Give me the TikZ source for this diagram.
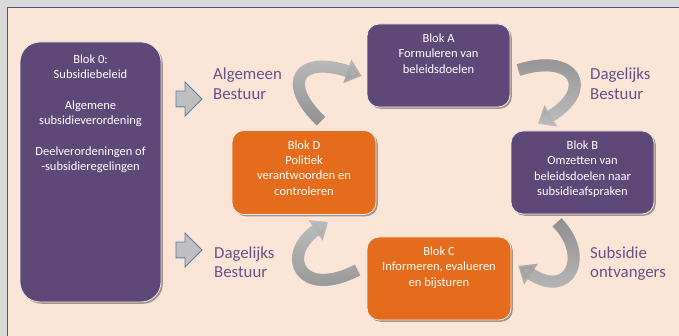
\documentclass[tikz,border=0pt]{standalone}
\usepackage{fontspec}
\setmainfont{Carlito}
\usetikzlibrary{shapes.arrows,shadows,fadings,arrows.meta,calc}
\definecolor{bggray}{HTML}{D9D9D9}
\definecolor{peach}{HTML}{FBE5D6}
\definecolor{framepurple}{HTML}{5F4A7B}
\definecolor{boxpurple}{HTML}{5E4878}
\definecolor{boxorange}{HTML}{E46C1C}
\definecolor{labpurple}{HTML}{65538A}
\definecolor{arrfill}{HTML}{BFBFBF}
\definecolor{arrline}{HTML}{5C7FA8}
\definecolor{curvelight}{HTML}{C0C0C0}
\definecolor{curvedark}{HTML}{8F8F8F}
\newcommand\boxtxt[4]{\parbox[c][#2pt][t]{#1pt}{\centering\vspace*{#3pt}#4\par}}
\tikzset{
  blk/.style={rounded corners=12pt, draw=white!92!black, line width=0.8pt, inner sep=0pt,
    drop shadow={shadow xshift=1.8pt, shadow yshift=-1.8pt, opacity=0.35, fill=black},
    text=white, font=\fontsize{12.5}{15.3}\selectfont},
  purp/.style={blk, fill=boxpurple},
  oran/.style={blk, fill=boxorange},
  lab/.style={text=labpurple, font=\fontsize{16.8}{20}\selectfont, align=left, inner sep=0pt, anchor=base west},
  fwdarrow/.style={single arrow, single arrow head extend=9pt, single arrow head indent=0pt,
    minimum width=33pt, minimum height=26pt, inner xsep=0pt, inner ysep=7.5pt, text height=0pt, text depth=0pt,
    fill=arrfill, draw=arrline, line width=0.9pt},
  curvebase/.style={line width=12pt, -{Triangle[width=24pt,length=15pt]}},
  curvelt/.style={curvebase, draw=curvelight},
  curvedk/.style={curvebase, draw=curvedark, path fading=#1}
}
\begin{document}
\begin{tikzpicture}[x=1pt,y=-1pt]
\clip (0,0) rectangle (679,336);
\fill[bggray] (0,0) rectangle (679,336);
\filldraw[fill=peach, draw=framepurple, line width=1pt] (7,8) rectangle (700,360);

% boxes
\node[purp, rounded corners=20pt] (B0) at (90.5,172) {\boxtxt{141}{260}{13}{Blok 0:\\Subsidiebeleid\\[15.3pt]Algemene\\subsidieverordening\\[15.3pt]Deelverordeningen of\\-subsidieregelingen}};
\node[purp] (A) at (438.5,65.5) {\boxtxt{143}{83}{10}{Blok A\\Formuleren van\\beleidsdoelen}};
\node[purp] (B) at (582.5,172.5) {\boxtxt{143}{83}{10}{Blok B\\Omzetten van\\beleidsdoelen naar\\subsidieafspraken}};
\node[oran] (D) at (304,172.5) {\boxtxt{144}{84}{10}{Blok D\\Politiek\\verantwoorden en\\controleren}};
\node[oran] (C) at (439,278.5) {\boxtxt{144}{83}{10}{Blok C\\Informeren, evalueren\\en bijsturen}};

% straight arrows
\node[fwdarrow] (F1) at (185,99) {};
\node[fwdarrow] (F2) at (185,250) {};

% labels (anchor = baseline of the last line)
\node[lab] (L1) at (213,100) {Algemeen\\Bestuur};
\node[lab] (L2) at (590,100) {Dagelijks\\Bestuur};
\node[lab] (L3) at (214,278) {Dagelijks\\Bestuur};
\node[lab] (L4) at (590,278) {Subsidie\\ontvangers};

% curved arrows
\coordinate (t1) at ([shift={(17,-9)}]D.north);
\coordinate (h1) at ([shift={(-5,10.5)}]A.west);
\coordinate (t2) at ([shift={(8,4.5)}]A.east);
\coordinate (h2) at ([shift={(-44.5,-7)}]B.north);
\coordinate (t3) at ([shift={(-25.5,8)}]B.south);
\coordinate (h3) at ([shift={(7,-12.5)}]C.east);
\coordinate (t4) at ([shift={(-9,-8.5)}]C.west);
\coordinate (h4) at ([shift={(24,7)}]D.south);

\draw[curvelt] (t1) .. controls +(-41,-39) and +(-62,-21) .. (h1);
\draw[curvedk=north] (t1) .. controls +(-41,-39) and +(-62,-21) .. (h1);
\draw[curvelt] (t2) .. controls +(57,-18) and +(57,-34) .. (h2);
\draw[curvedk=south] (t2) .. controls +(57,-18) and +(57,-34) .. (h2);
\draw[curvelt] (t3) .. controls +(33,33) and +(52,34) .. (h3);
\draw[curvedk=south] (t3) .. controls +(33,33) and +(52,34) .. (h3);
\draw[curvelt] (t4) .. controls +(-58,30) and +(-48,33) .. (h4);
\draw[curvedk=north] (t4) .. controls +(-58,30) and +(-48,33) .. (h4);
\end{tikzpicture}
\end{document}
